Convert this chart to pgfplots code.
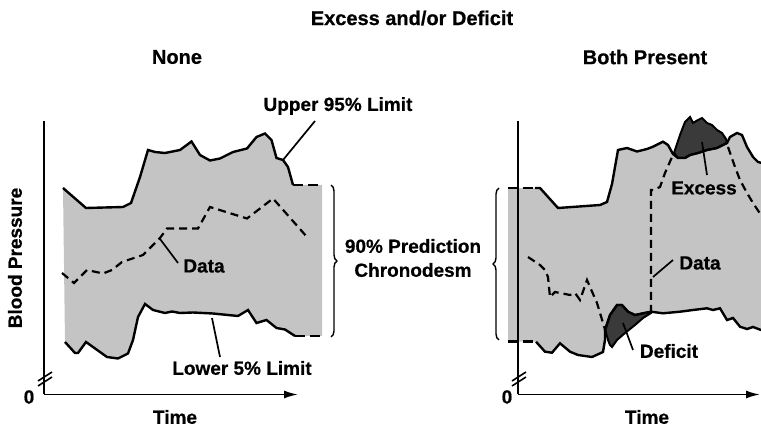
\documentclass[border=0pt]{standalone}
\usepackage{pgfplots}
\pgfplotsset{compat=1.18}
\usepackage{fontspec}
\setmainfont{Liberation Sans}[BoldFeatures={FakeBold=0.6}]
\usetikzlibrary{decorations.pathreplacing,arrows.meta}
\definecolor{light}{HTML}{C4C4C4}
\definecolor{dark}{HTML}{3A3A3A}
\newcommand\lab{\fontsize{9.5}{11}\selectfont\bfseries}
\newcommand\ttl{\fontsize{10}{12}\selectfont\bfseries}
\begin{document}
\begin{tikzpicture}
\begin{axis}[hide axis, scale only axis, width=380.5pt, height=213.5pt,
  xmin=0, xmax=761, ymin=0, ymax=427, y dir=reverse, clip=true]
% ---------------- left panel ----------------
\addplot[fill=light, draw=none] coordinates {
 (63,188) (86,208) (123,207) (131,203) (140,177) (148,150) (155,152) (165,153)
 (180,150) (191.5,141.5) (200,155) (210,160.5) (220,158.5) (233,152) (247,148.5)
 (256.5,137) (265,133.5) (271.5,140) (276.5,158) (283,160) (288,167) (293,185)
 (322,185) (322,336) (295,336) (285,329.5) (276.5,328) (266.5,320) (256.5,323)
 (248,310) (238,316) (213,313.5) (193,312.5) (180,313) (172,311.5) (165,313)
 (153,310) (145,304) (138,317) (133,340) (128,353.5) (118,358.5) (107,357)
 (93,347) (86,342) (78,353) (75,353) (65,342)} -- cycle;
% upper limit
\addplot[black, line width=1.2pt] coordinates {
 (63,188) (86,208) (123,207) (131,203) (140,177) (148,150) (155,152) (165,153)
 (180,150) (191.5,141.5) (200,155) (210,160.5) (220,158.5) (233,152) (247,148.5)
 (256.5,137) (265,133.5) (271.5,140) (276.5,158) (283,160) (288,167) (293,185)};
\addplot[black, line width=1.2pt, dash pattern=on 5pt off 2.5pt] coordinates {(293,185) (322,185)};
% lower limit
\addplot[black, line width=1.2pt] coordinates {
 (65,342) (75,353) (78,353) (86,342) (93,347) (107,357) (118,358.5) (128,353.5)
 (133,340) (138,317) (145,304) (153,310) (165,313) (172,311.5) (180,313)
 (193,312.5) (213,313.5) (238,316) (248,310) (256.5,323) (266.5,320) (276.5,328)
 (285,329.5) (295,336)};
\addplot[black, line width=1.2pt, dash pattern=on 5pt off 2.5pt] coordinates {(295,336) (322,336)};
% data
\addplot[black, line width=1.1pt, dash pattern=on 4pt off 2.5pt] coordinates {
 (62,273) (74,283) (87,270) (103,273.5) (112,270) (122,262) (143,255) (160,238)
 (167,228.5) (198,228.5) (210,207) (247,218.5) (273,198.5) (307,237)};
% axes
\addplot[black, line width=0.9pt] coordinates {(44,121) (44,394.5)};
\addplot[black, line width=0.9pt, -{Latex[length=7pt,width=4pt]}] coordinates {(44,394.5) (298,394.5)};
\addplot[black, line width=0.8pt] coordinates {(38,381) (52,372)};
\addplot[black, line width=0.8pt] coordinates {(38,386) (52,377)};
% leaders
\addplot[black, line width=0.85pt] coordinates {(315,121) (283,160)};
\addplot[black, line width=0.85pt] coordinates {(160,239) (178,263)};
\addplot[black, line width=0.85pt] coordinates {(212,318) (220,357)};
\draw[line width=0.7pt, decorate, decoration={brace, amplitude=3pt}] (axis cs:331,185) -- (axis cs:331,337);
% ---------------- right panel ----------------
\addplot[fill=light, draw=none] coordinates {
 (508,188) (540,188) (558,208) (600,205) (607,202) (612,184) (618,150) (627,148)
 (637,151.5) (647,149) (653,146.7) (663,141.7) (668,145) (673,154) (678,158)
 (685,158) (690,155) (698,153) (707,150) (717,148) (727,143) (730,137) (737,133)
 (742,135) (747,147) (753,157) (758,162) (770,165) (770,331) (761,330) (753,327)
 (747,329) (740,326.7) (733,318) (727,320) (720,308.3) (713,310) (707,308.3)
 (693,310) (680,311.7) (663,313.3) (651,311.7) (643,313.3) (635,315) (628,311.7)
 (622,305) (617,305) (610,315) (605,330) (605,340) (603,352) (592,357) (578,355)
 (570,351.7) (560,343.3) (552,352.7) (545,351.7) (537,341.7) (508,341.7)} -- cycle;
% excess
\addplot[fill=dark, draw=black, line width=1pt] coordinates {
 (674,153) (680,135) (685,122) (690,117) (693,123) (698,120) (702,118) (707,123)
 (712,125) (717,130) (722,133) (726,139) (727,143) (717,148) (707,150) (698,153)
 (690,155) (685,158) (678,158)} -- cycle;
% deficit
\addplot[fill=dark, draw=black, line width=1pt] coordinates {
 (605,330) (610,315) (617,305) (622,305) (628,311.7) (635,315) (643,313.3)
 (651,311.7) (651,313) (643,318) (635,325) (625,333) (617,340) (612,347)
 (610,345) (608,340) (606,333)} -- cycle;
% upper limit
\addplot[black, line width=1.2pt, dash pattern=on 5pt off 2.5pt] coordinates {(508,188) (535,188)};
\addplot[black, line width=1.2pt] coordinates {
 (535,188) (540,188) (558,208) (600,205) (607,202) (612,184) (618,150) (627,148)
 (637,151.5) (647,149) (653,146.7) (663,141.7) (668,145) (673,154) (678,158)
 (685,158) (690,155) (698,153) (707,150) (717,148) (727,143) (730,137) (737,133)
 (742,135) (747,147) (753,157) (758,162) (770,165)};
% lower limit
\addplot[black, line width=1.2pt, dash pattern=on 5pt off 2.5pt] coordinates {(508,341.7) (536,341.7)};
\addplot[black, line width=1.2pt] coordinates {
 (536,341.7) (545,351.7) (552,352.7) (560,343.3) (570,351.7) (578,355) (592,357)
 (603,352) (605,340) (605,330) (610,315) (617,305) (622,305) (628,311.7) (635,315)
 (643,313.3) (651,311.7) (663,313.3) (680,311.7) (693,310) (707,308.3) (713,310)
 (720,308.3) (727,320) (733,318) (740,326.7) (747,329) (753,327) (761,330) (770,331)};
% data
\addplot[black, line width=1.1pt, dash pattern=on 4pt off 2.5pt] coordinates {
 (528,257) (540,265) (545,270) (548,277) (550,297) (555,292) (570,295) (575,293)
 (580,300) (587,280) (590,287) (597,303) (603,323) (606,333)};
\addplot[black, line width=1.1pt, dash pattern=on 4pt off 2.5pt] coordinates {
 (651,313) (651,190) (653,190) (660,187) (665,173) (672,157) (675,153)};
\addplot[black, line width=1.1pt, dash pattern=on 4pt off 2.5pt] coordinates {
 (728,147) (735,167) (740,180) (747,193) (753,203) (761,215)};
% axes
\addplot[black, line width=0.9pt] coordinates {(518,121) (518,394.5)};
\addplot[black, line width=0.9pt, -{Latex[length=7pt,width=4pt]}] coordinates {(518,394.5) (760,394.5)};
\addplot[black, line width=0.8pt] coordinates {(512,381) (526,372)};
\addplot[black, line width=0.8pt] coordinates {(512,386) (526,377)};
% leaders
\addplot[black, line width=0.85pt] coordinates {(702,142) (707,175)};
\addplot[black, line width=0.85pt] coordinates {(653,277) (673,260)};
\addplot[black, line width=0.85pt] coordinates {(623,323) (633,350)};
\draw[line width=0.7pt, decorate, decoration={brace, amplitude=3pt}] (axis cs:499,340) -- (axis cs:499,188);
% ---------------- text ----------------
\node[font=\ttl] at (axis cs:412,18) {Excess and/or Deficit};
\node[font=\ttl] at (axis cs:177,57) {None};
\node[font=\ttl] at (axis cs:645,57) {Both Present};
\node[font=\lab] at (axis cs:338,106) {Upper 95\% Limit};
\node[font=\lab] at (axis cs:204,266) {Data};
\node[font=\lab] at (axis cs:242,368) {Lower 5\% Limit};
\node[font=\lab] at (axis cs:413,246) {90\% Prediction};
\node[font=\lab] at (axis cs:413,270) {Chronodesm};
\node[font=\lab, rotate=90] at (axis cs:15,258) {Blood Pressure};
\node[font=\lab] at (axis cs:175,417) {Time};
\node[font=\lab] at (axis cs:647,417) {Time};
\node[font=\lab] at (axis cs:29,397) {0};
\node[font=\lab] at (axis cs:507,397) {0};
\node[font=\lab] at (axis cs:704,188) {Excess};
\node[font=\lab] at (axis cs:700,263) {Data};
\node[font=\lab] at (axis cs:669,351) {Deficit};
\end{axis}
\pgfresetboundingbox
\path (current axis.south west) rectangle (current axis.north east);
\end{tikzpicture}
\end{document}
